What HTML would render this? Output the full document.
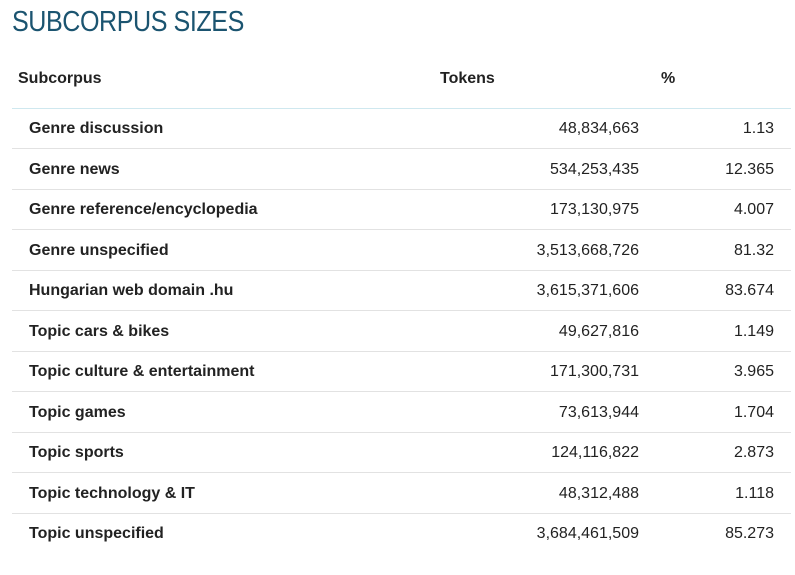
<!DOCTYPE html>
<html><head><style>
body{margin:0;background:#fff;font-family:"Liberation Sans",sans-serif;color:#222;width:795px;height:575px;overflow:hidden;position:relative}
h1{position:absolute;left:12px;top:6px;margin:0;font-weight:normal;font-size:29px;letter-spacing:-0.5px;color:#1b5470;transform:scaleX(0.865);transform-origin:0 0;white-space:nowrap}
.h{position:absolute;top:70px;font-weight:bold;font-size:16px}
.hl{position:absolute;left:12px;width:779px;top:108px;height:1px;background:#cfe8ef}
.row{position:absolute;left:12px;width:779px;height:40px;border-bottom:1px solid #e2e2e2;font-size:16px;line-height:42px}
.row span{position:absolute}
.n{font-weight:bold;left:17px}
.t{right:152px}
.p{right:17px}
</style></head><body>
<h1>SUBCORPUS SIZES</h1>
<div class="h" style="left:18px">Subcorpus</div>
<div class="h" style="left:440px">Tokens</div>
<div class="h" style="left:661px">%</div>
<div class="hl"></div>
<div class="row" style="top:108px"><span class="n">Genre discussion</span><span class="t">48,834,663</span><span class="p">1.13</span></div>
<div class="row" style="top:148.5px"><span class="n">Genre news</span><span class="t">534,253,435</span><span class="p">12.365</span></div>
<div class="row" style="top:189px"><span class="n">Genre reference/encyclopedia</span><span class="t">173,130,975</span><span class="p">4.007</span></div>
<div class="row" style="top:229.5px"><span class="n">Genre unspecified</span><span class="t">3,513,668,726</span><span class="p">81.32</span></div>
<div class="row" style="top:270px"><span class="n">Hungarian web domain .hu</span><span class="t">3,615,371,606</span><span class="p">83.674</span></div>
<div class="row" style="top:310.5px"><span class="n">Topic cars &amp; bikes</span><span class="t">49,627,816</span><span class="p">1.149</span></div>
<div class="row" style="top:351px"><span class="n">Topic culture &amp; entertainment</span><span class="t">171,300,731</span><span class="p">3.965</span></div>
<div class="row" style="top:391.5px"><span class="n">Topic games</span><span class="t">73,613,944</span><span class="p">1.704</span></div>
<div class="row" style="top:432px"><span class="n">Topic sports</span><span class="t">124,116,822</span><span class="p">2.873</span></div>
<div class="row" style="top:472.5px"><span class="n">Topic technology &amp; IT</span><span class="t">48,312,488</span><span class="p">1.118</span></div>
<div class="row" style="top:513px;border-bottom:none"><span class="n">Topic unspecified</span><span class="t">3,684,461,509</span><span class="p">85.273</span></div>
</body></html>
